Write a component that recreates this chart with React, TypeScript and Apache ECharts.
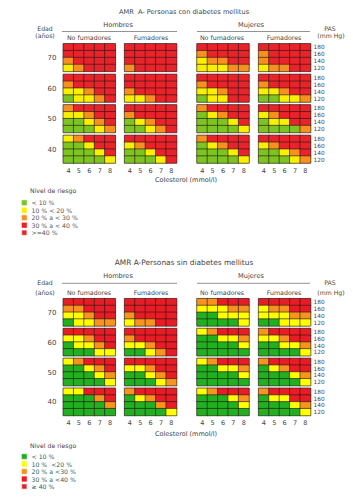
import React, { useEffect, useRef } from "react";
import * as echarts from "echarts";

// Axis categories
const cholesterol = ["4", "5", "6", "7", "8"];
const sbpBottomUp = ["120", "140", "160", "180"];
const ages = ["70", "60", "50", "40"];

// Risk levels: 1 <10%, 2 10-<20%, 3 20-<30%, 4 30-<40%, 5 >=40%
// Each panel: rows SBP 180,160,140,120 (top to bottom); columns cholesterol 4..8
// Each group: panels for ages 70, 60, 50, 40
const diabMenNonSmokers = [
  ["55555", "55555", "35555", "23555"],
  ["55555", "35555", "22355", "12235"],
  ["35555", "22355", "11235", "11123"],
  ["23555", "11255", "11125", "11112"],
];
const diabMenSmokers = [
  ["55555", "55555", "55555", "35555"],
  ["55555", "55555", "35555", "22355"],
  ["55555", "35555", "12355", "11235"],
  ["55555", "23555", "11255", "11125"],
];
const diabWomenNonSmokers = [
  ["55555", "35555", "23355", "22233"],
  ["55555", "35555", "22355", "12255"],
  ["35555", "12355", "11125", "11112"],
  ["35555", "12355", "11125", "11112"],
];
const diabWomenSmokers = [
  ["55555", "35555", "35555", "23355"],
  ["55555", "35555", "22355", "11223"],
  ["55555", "23555", "12255", "11113"],
  ["55555", "23555", "11235", "11123"],
];
const noDiabMenNonSmokers = [
  ["55555", "33555", "22355", "12233"],
  ["55555", "22355", "12235", "11122"],
  ["23555", "11235", "11123", "11112"],
  ["22555", "11135", "11113", "11111"],
];
const noDiabMenSmokers = [
  ["55555", "55555", "35555", "23355"],
  ["55555", "35555", "22355", "11235"],
  ["55555", "22355", "11235", "11123"],
  ["35555", "12355", "11135", "11112"],
];
const noDiabWomenNonSmokers = [
  ["33555", "22233", "11222", "11112"],
  ["23555", "11223", "11112", "11111"],
  ["23555", "11223", "11112", "11111"],
  ["23555", "11123", "11112", "11111"],
];
const noDiabWomenSmokers = [
  ["55555", "23355", "22233", "11222"],
  ["35555", "22355", "11223", "11112"],
  ["35555", "12355", "11123", "11112"],
  ["35555", "12255", "11123", "11112"],
];

const sections = [
  {
    title: "AMR  A- Personas con diabetes mellitus",
    groups: [diabMenNonSmokers, diabMenSmokers, diabWomenNonSmokers, diabWomenSmokers],
  },
  {
    title: "AMR A-Personas sin diabetes mellitus",
    groups: [noDiabMenNonSmokers, noDiabMenSmokers, noDiabWomenNonSmokers, noDiabWomenSmokers],
  },
];

const riskLabelsTop = ["< 10 %", "10 % < 20 %", "20 % a < 30 %", "30 % a < 40 %", ">=40 %"];
const riskLabelsBottom = ["< 10 %", "10 %  <20 %", "20 % a <30 %", "30 % a <40 %", "\u2265 40 %"];

const colorsTop = ["#7cc520", "#f8f000", "#f7901e", "#ec2027", "#e8232a"];
const colorsBottom = ["#20b020", "#ffff00", "#f7941d", "#ec1c24", "#e81c24"];

const FONT = "DejaVu Sans";
const TXT = "#444";

const App: React.FC = () => {
  const ref = useRef<HTMLDivElement>(null);

  useEffect(() => {
    if (!ref.current) return;
    const chart = echarts.init(ref.current, undefined, { renderer: "svg" });

    const panelX = [63.3, 124.6, 197, 258.6];
    const panelW = 52;
    const panelY = [
      [43.8, 74.4, 104.9, 135.4],
      [298.7, 328.5, 358.4, 388.3],
    ];
    const panelH = [27.6, 27.2];

    const grid: any[] = [];
    const xAxis: any[] = [];
    const yAxis: any[] = [];
    const series: any[] = [];

    sections.forEach((sec, s) => {
      sec.groups.forEach((group, g) => {
        group.forEach((panel, a) => {
          const idx = grid.length;
          grid.push({
            left: panelX[g],
            top: panelY[s][a],
            width: panelW,
            height: panelH[s],
            show: true,
            borderColor: "#b8b8b8",
            borderWidth: 1,
            backgroundColor: "transparent",
          });
          xAxis.push({
            type: "category",
            gridIndex: idx,
            data: cholesterol,
            axisLine: { show: false },
            axisTick: { show: false },
            splitLine: { show: false },
            axisLabel: {
              show: a === 3,
              interval: 0,
              fontFamily: FONT,
              fontSize: 6.5,
              color: TXT,
              margin: 4,
            },
          });
          yAxis.push({
            type: "category",
            gridIndex: idx,
            data: sbpBottomUp,
            position: "right",
            axisLine: { show: false },
            axisTick: { show: false },
            splitLine: { show: false },
            axisLabel: {
              show: g === 3,
              interval: 0,
              fontFamily: FONT,
              fontSize: 5.8,
              lineHeight: 6,
              color: TXT,
              margin: 3,
              align: "left",
            },
          });
          const data: number[][] = [];
          panel.forEach((row, r) => {
            row.split("").forEach((ch, c) => {
              data.push([c, 3 - r, Number(ch)]);
            });
          });
          series.push({
            type: "heatmap",
            xAxisIndex: idx,
            yAxisIndex: idx,
            data,
            itemStyle: { borderColor: "rgba(40,20,20,0.75)", borderWidth: 0.8 },
            emphasis: { disabled: true },
          });
        });
      });
    });

    const pieces = (cols: string[]) =>
      cols.map((c, i) => ({ value: i + 1, color: c }));

    const graphic: any[] = [];
    const text = (x: number, y: number, t: string, size = 6.5, align = "center", fill = TXT) => ({
      type: "text",
      x,
      y,
      style: {
        text: t,
        fontFamily: FONT,
        fontSize: size,
        lineHeight: size,
        fill,
        align,
        verticalAlign: "middle",
      },
      silent: true,
    });

    const sectionLayout = [
      { title: 12, head: 24.5, line: 31.5, sub: 37, edad: 28.6, anos: 35.4, cy: 179.5, leg: 190.7, legBox: 202.7 },
      { title: 262, head: 275.5, line: 283.3, sub: 292.3, edad: 282, anos: 292.5, cy: 434.3, leg: 445, legBox: 456.5 },
    ];

    sections.forEach((sec, s) => {
      const L = sectionLayout[s];
      graphic.push(text(184, L.title, sec.title, s === 0 ? 6.6 : 7.4));
      graphic.push(text(118, L.head, "Hombres", 6.6));
      graphic.push(text(251, L.head, "Mujeres", 6.6));
      graphic.push({
        type: "line",
        shape: { x1: 62, y1: L.line, x2: 177, y2: L.line },
        style: { stroke: "#777", lineWidth: 0.8 },
        silent: true,
      });
      graphic.push({
        type: "line",
        shape: { x1: 197, y1: L.line, x2: 310, y2: L.line },
        style: { stroke: "#777", lineWidth: 0.8 },
        silent: true,
      });
      graphic.push(text(89, L.sub, "No fumadores", 6.3));
      graphic.push(text(151, L.sub, "Fumadores", 6.3));
      graphic.push(text(222, L.sub, "No fumadores", 6.3));
      graphic.push(text(284, L.sub, "Fumadores", 6.3));
      graphic.push(text(45, L.edad, "Edad", 6.2));
      graphic.push(text(45, L.anos, "(a\u00f1os)", 6.2));
      graphic.push(text(330, L.edad, "PAS", 6.2));
      graphic.push(text(331, L.anos, "(mm Hg)", 6.2));
      ages.forEach((age, a) => {
        graphic.push(text(52, panelY[s][a] + panelH[s] / 2 + 0.5, age, 7));
      });
      graphic.push(text(186, L.cy, "Colesterol (mmol/l)", 6.5));
      graphic.push(text(30, L.leg, "Nivel de riesgo", 6.2, "left"));
      const cols = s === 0 ? colorsTop : colorsBottom;
      const labels = s === 0 ? riskLabelsTop : riskLabelsBottom;
      labels.forEach((lab, i) => {
        const y = L.legBox + i * 7.5;
        graphic.push({
          type: "rect",
          shape: { x: 22, y: y - 2.3, width: 4.6, height: 4.6 },
          style: { fill: cols[i], stroke: i === 4 ? "#f08080" : cols[i], lineWidth: 0.6 },
          silent: true,
        });
        graphic.push(text(31.5, y, lab, 6.2, "left", s === 0 ? "#555" : "#2a6464"));
      });
    });

    chart.setOption({
      animation: false,
      backgroundColor: "#ffffff",
      grid,
      xAxis,
      yAxis,
      visualMap: [
        {
          type: "piecewise",
          show: false,
          dimension: 2,
          seriesIndex: series.map((_, i) => i).filter((i) => i < 16),
          pieces: pieces(colorsTop),
        },
        {
          type: "piecewise",
          show: false,
          dimension: 2,
          seriesIndex: series.map((_, i) => i).filter((i) => i >= 16),
          pieces: pieces(colorsBottom),
        },
      ],
      series,
      graphic,
    });

    return () => chart.dispose();
  }, []);

  return (
    <div
      ref={ref}
      style={{ position: "absolute", left: 0, top: 0, width: 353, height: 504, background: "#fff" }}
    />
  );
};

export default App;
